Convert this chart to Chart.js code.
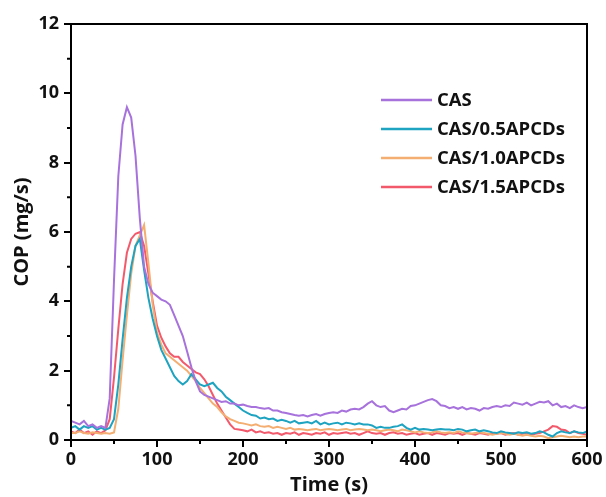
<!DOCTYPE html>
<html><head><meta charset="utf-8">
<script src="https://cdn.jsdelivr.net/npm/chart.js@4.4.1/dist/chart.umd.min.js"></script>
<style>html,body{margin:0;padding:0;background:#fff}#wrap{width:606px;height:497px}</style>
</head><body><div id="wrap"><canvas id="c" width="606" height="497"></canvas></div>
<script>
const time = [0,5,10,15,20,25,30,35,40,45,50,55,60,65,70,75,80,85,90,95,100,105,110,115,120,125,130,135,140,145,150,155,160,165,170,175,180,185,190,195,200,205,210,215,220,225,230,235,240,245,250,255,260,265,270,275,280,285,290,295,300,305,310,315,320,325,330,335,340,345,350,355,360,365,370,375,380,385,390,395,400,405,410,415,420,425,430,435,440,445,450,455,460,465,470,475,480,485,490,495,500,505,510,515,520,525,530,535,540,545,550,555,560,565,570,575,580,585,590,595,600];
const seriesNames = ["CAS","CAS/0.5APCDs","CAS/1.0APCDs","CAS/1.5APCDs"];
const cas = [0.55,0.5,0.45,0.55,0.4,0.45,0.35,0.4,0.35,1.2,4.6,7.6,9.1,9.6,9.3,8.2,6.4,5.0,4.5,4.25,4.15,4.05,4.0,3.9,3.6,3.3,3.0,2.55,2.1,1.7,1.4,1.3,1.25,1.2,1.15,1.1,1.12,1.05,1.05,1.0,1.02,0.98,0.95,0.95,0.92,0.9,0.92,0.85,0.85,0.8,0.78,0.75,0.72,0.7,0.72,0.68,0.72,0.75,0.7,0.75,0.78,0.8,0.78,0.85,0.82,0.88,0.9,0.88,0.95,1.05,1.12,1.0,0.95,0.98,0.85,0.8,0.85,0.9,0.88,0.98,1.0,1.05,1.1,1.15,1.18,1.12,1.0,0.98,0.92,0.95,0.9,0.95,0.88,0.92,0.9,0.85,0.92,0.9,0.95,0.98,0.95,1.0,0.98,1.08,1.05,1.02,1.08,1.0,1.05,1.1,1.08,1.12,1.0,1.05,0.95,0.98,0.92,1.0,0.95,0.92,0.95];
const cas05 = [0.35,0.4,0.3,0.4,0.35,0.4,0.3,0.35,0.3,0.35,0.6,1.6,2.9,4.1,5.0,5.6,5.8,4.9,4.1,3.5,3.0,2.6,2.35,2.1,1.85,1.7,1.6,1.7,1.9,1.75,1.6,1.55,1.6,1.65,1.5,1.4,1.25,1.15,1.05,0.95,0.85,0.78,0.72,0.7,0.62,0.65,0.6,0.62,0.55,0.58,0.55,0.5,0.55,0.48,0.5,0.52,0.48,0.55,0.45,0.5,0.45,0.48,0.5,0.45,0.5,0.48,0.45,0.48,0.45,0.45,0.42,0.35,0.38,0.35,0.35,0.38,0.4,0.45,0.35,0.3,0.35,0.3,0.32,0.3,0.28,0.3,0.32,0.3,0.3,0.28,0.32,0.3,0.25,0.28,0.3,0.25,0.28,0.25,0.22,0.2,0.25,0.22,0.2,0.18,0.22,0.2,0.22,0.18,0.2,0.25,0.22,0.15,0.1,0.2,0.25,0.22,0.2,0.25,0.22,0.2,0.25];
const cas10 = [0.2,0.2,0.25,0.2,0.18,0.22,0.2,0.18,0.2,0.18,0.22,0.9,2.3,3.6,4.8,5.6,5.9,6.2,5.1,3.9,3.1,2.75,2.5,2.4,2.3,2.2,2.1,2.0,1.85,1.7,1.5,1.35,1.2,1.05,0.95,0.8,0.68,0.6,0.55,0.5,0.48,0.45,0.42,0.45,0.4,0.38,0.4,0.35,0.38,0.35,0.32,0.35,0.3,0.32,0.3,0.28,0.3,0.32,0.28,0.3,0.32,0.3,0.28,0.3,0.32,0.28,0.3,0.32,0.3,0.28,0.3,0.28,0.25,0.28,0.3,0.28,0.25,0.3,0.28,0.25,0.22,0.25,0.22,0.2,0.22,0.25,0.22,0.2,0.22,0.2,0.25,0.22,0.2,0.18,0.2,0.22,0.2,0.18,0.15,0.18,0.2,0.18,0.15,0.18,0.15,0.12,0.15,0.12,0.1,0.12,0.1,0.05,0.08,0.1,0.12,0.1,0.08,0.1,0.08,0.1,0.1];
const cas15 = [0.25,0.2,0.3,0.2,0.25,0.15,0.25,0.2,0.28,0.6,1.8,3.2,4.5,5.4,5.8,5.95,6.0,5.6,4.8,4.0,3.3,2.95,2.7,2.5,2.4,2.4,2.25,2.15,2.05,1.95,1.9,1.75,1.55,1.3,1.05,0.85,0.65,0.45,0.32,0.3,0.28,0.25,0.3,0.22,0.25,0.2,0.22,0.18,0.2,0.15,0.2,0.18,0.22,0.15,0.2,0.18,0.15,0.2,0.18,0.22,0.15,0.2,0.18,0.2,0.22,0.18,0.2,0.15,0.2,0.25,0.2,0.18,0.2,0.15,0.2,0.22,0.18,0.2,0.15,0.18,0.2,0.15,0.18,0.2,0.15,0.2,0.18,0.15,0.2,0.18,0.2,0.15,0.2,0.18,0.15,0.2,0.18,0.15,0.2,0.18,0.2,0.15,0.18,0.2,0.15,0.18,0.2,0.15,0.18,0.2,0.25,0.3,0.4,0.38,0.3,0.28,0.2,0.25,0.2,0.18,0.15];
const colors = ["#a772dc","#1ea3c1","#f4ae72","#f25a6c"];
const allSeries = [cas, cas05, cas10, cas15];

const FONT = "'Open Sans', sans-serif";
const toXY = arr => arr.map((v,i)=>({x:time[i], y:v}));

const framePlugin = {
  id:'frame',
  afterDraw(chart){
    const {ctx, chartArea:a, scales:{x,y}} = chart;
    ctx.save();
    ctx.strokeStyle='#000'; ctx.lineWidth=2;
    ctx.strokeRect(a.left, a.top, a.right-a.left, a.bottom-a.top);
    ctx.lineWidth=2;
    ctx.beginPath();
    for(let v=50; v<600; v+=100){ const px=x.getPixelForValue(v); ctx.moveTo(px,a.bottom); ctx.lineTo(px,a.bottom+4); }
    for(let v=1; v<12; v+=2){ const py=y.getPixelForValue(v); ctx.moveTo(a.left,py); ctx.lineTo(a.left-4,py); }
    ctx.stroke();
    // legend
    ctx.font = "bold 18.5px " + FONT;
    ctx.textBaseline='middle'; ctx.textAlign='left';
    chart.data.datasets.forEach((ds,i)=>{
      const yy = 100 + i*29;
      ctx.strokeStyle = ds.borderColor; ctx.lineWidth=2.5;
      ctx.beginPath(); ctx.moveTo(381,yy); ctx.lineTo(432,yy); ctx.stroke();
      ctx.fillStyle='#111'; ctx.fillText(ds.label, 437, yy+1);
    });
    ctx.restore();
  }
};

new Chart(document.getElementById('c'), {
  type:'line',
  data:{ datasets: allSeries.map((s,i)=>({label:seriesNames[i], data:toXY(s), borderColor:colors[i], borderWidth:2, pointRadius:0, tension:0, fill:false})) },
  options:{
    responsive:false, animation:false,
    layout:{padding:{top:24,right:19,left:0,bottom:0}},
    plugins:{legend:{display:false}, tooltip:{enabled:false}},
    scales:{
      x:{type:'linear', min:0, max:600,
        ticks:{stepSize:100, color:'#111', font:{family:FONT, weight:'bold', size:18}, padding:2, maxRotation:0},
        grid:{drawOnChartArea:false, tickLength:7, color:'#000', lineWidth:2},
        border:{color:'#000', width:2},
        title:{display:true, text:'Time (s)', color:'#111', font:{family:FONT, weight:'bold', size:20}, padding:{top:0,bottom:0}},
        afterFit(s){ s.height = 57; }
      },
      y:{min:0, max:12,
        ticks:{stepSize:2, color:'#111', font:{family:FONT, weight:'bold', size:18}, padding:5},
        grid:{drawOnChartArea:false, tickLength:7, color:'#000', lineWidth:2},
        border:{color:'#000', width:2},
        title:{display:true, text:'COP (mg/s)', color:'#111', font:{family:FONT, weight:'bold', size:20}, padding:{top:10,bottom:2}},
        afterFit(s){ s.width = 71; }
      }
    }
  },
  plugins:[framePlugin]
});
</script>
</body></html>
